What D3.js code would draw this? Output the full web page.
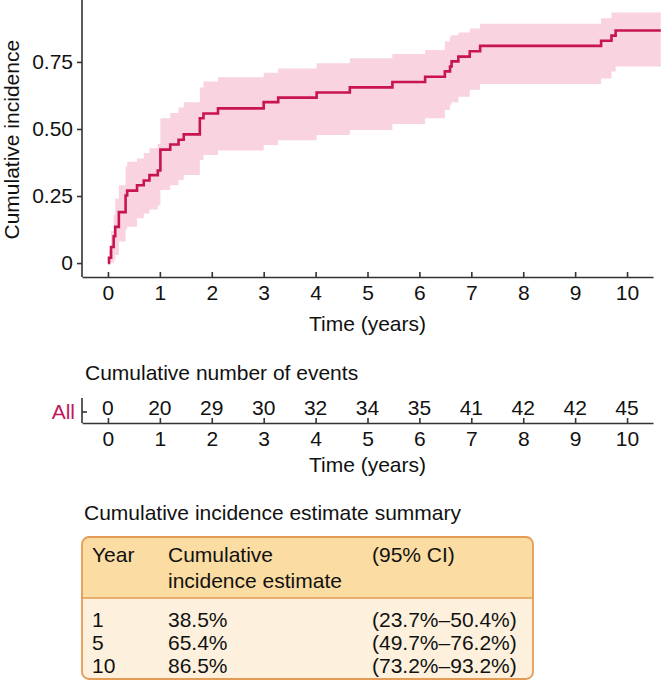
<!DOCTYPE html>
<html>
<head>
<meta charset="utf-8">
<script src="https://cdn.jsdelivr.net/npm/d3@7"></script>
<style>
  body { margin: 0; background: #fff; }
  svg { display: block; font-family: "Liberation Sans", Arial, sans-serif; }
  .axis text { font-size: 21px; fill: #111; font-family: "Liberation Sans", Arial, sans-serif; }
  .axis path, .axis line { stroke: #333; stroke-width: 1.6px; }
</style>
</head>
<body>
<svg id="chart" width="661" height="689"></svg>
<script>
// Step times (years) and cumulative incidence with 95% CI
const times    = [0, 0.02, 0.06, 0.11, 0.14, 0.21, 0.34, 0.37, 0.56, 0.69, 0.80, 0.96, 1.01, 1.20, 1.36, 1.46, 1.77, 1.84, 2.12, 3.00, 3.28, 4.02, 4.66, 5.48, 6.11, 6.49, 6.59, 6.62, 6.75, 6.97, 7.17, 9.50, 9.70, 9.78];
const estimate = [0, 0.02, 0.06, 0.10, 0.135, 0.19, 0.252, 0.27, 0.29, 0.308, 0.328, 0.345, 0.423, 0.442, 0.46, 0.48, 0.54, 0.558, 0.577, 0.60, 0.617, 0.636, 0.655, 0.675, 0.695, 0.715, 0.733, 0.752, 0.77, 0.79, 0.81, 0.829, 0.848, 0.867];
const lower    = [0, 0, 0, 0.01, 0.03, 0.08, 0.125, 0.135, 0.167, 0.185, 0.20, 0.215, 0.272, 0.29, 0.31, 0.328, 0.384, 0.403, 0.42, 0.44, 0.458, 0.478, 0.496, 0.519, 0.54, 0.571, 0.59, 0.60, 0.62, 0.646, 0.668, 0.688, 0.714, 0.733];
const upper    = [0, 0.05, 0.12, 0.18, 0.24, 0.29, 0.36, 0.378, 0.39, 0.41, 0.428, 0.444, 0.54, 0.56, 0.58, 0.60, 0.655, 0.677, 0.693, 0.71, 0.726, 0.745, 0.764, 0.78, 0.795, 0.826, 0.845, 0.85, 0.86, 0.875, 0.892, 0.913, 0.934, 0.934];
const followUpEnd = 10.65;

const yTicks = [0, 0.25, 0.5, 0.75];
const yTickLabels = ["0", "0.25", "0.50", "0.75"];
const xTicks = [0, 1, 2, 3, 4, 5, 6, 7, 8, 9, 10];

// Cumulative number of events at each year
const riskYears = [0, 1, 2, 3, 4, 5, 6, 7, 8, 9, 10];
const riskEvents = [0, 20, 29, 30, 32, 34, 35, 41, 42, 42, 45];

// Summary table
const summaryYears = ["1", "5", "10"];
const summaryEstimates = ["38.5%", "65.4%", "86.5%"];
const summaryCIs = ["(23.7%\u201350.4%)", "(49.7%\u201376.2%)", "(73.2%\u201393.2%)"];

const lineColor = "#c8154f";
const bandColor = "#f9d3e0";

const svg = d3.select("#chart");

// Scales shared by the plot and the events table
const x = d3.scaleLinear().domain([-0.5, 10.5]).range([82, 653]);
const y = d3.scaleLinear().domain([-0.052, 0.981]).range([277, 0]);

const steps = times.map((t, i) => ({ t: t, est: estimate[i], lo: lower[i], hi: upper[i] }));
steps.push({ t: followUpEnd, est: estimate[estimate.length - 1], lo: lower[lower.length - 1], hi: upper[upper.length - 1] });

// CI band
svg.append("path")
    .datum(steps)
    .attr("fill", bandColor)
    .attr("d", d3.area()
        .curve(d3.curveStepAfter)
        .x(d => x(d.t))
        .y0(d => y(d.lo))
        .y1(d => y(d.hi)));

// Estimate line
svg.append("path")
    .datum(steps)
    .attr("fill", "none")
    .attr("stroke", lineColor)
    .attr("stroke-width", 2.6)
    .attr("d", d3.line()
        .curve(d3.curveStepAfter)
        .x(d => x(d.t))
        .y(d => y(d.est)));

// Axes
const yAxis = svg.append("g")
    .attr("class", "axis")
    .attr("transform", `translate(${x(-0.5)},0)`)
    .call(d3.axisLeft(y).tickValues(yTicks).tickFormat((d, i) => yTickLabels[i]).tickSize(5).tickPadding(4));
yAxis.select(".domain").attr("d", `M0,0V${y(-0.052)}`);

svg.append("g")
    .attr("class", "axis")
    .attr("transform", `translate(0,${y(-0.052)})`)
    .call(d3.axisBottom(x).tickValues(xTicks).tickFormat(d3.format("d")).tickSizeInner(-5).tickSizeOuter(0).tickPadding(8));

svg.append("text")
    .attr("transform", `translate(19,${y(0.46)}) rotate(-90)`)
    .attr("text-anchor", "middle")
    .attr("font-size", 21)
    .attr("fill", "#111")
    .text("Cumulative incidence");

svg.append("text")
    .attr("x", x(5))
    .attr("y", 331)
    .attr("text-anchor", "middle")
    .attr("font-size", 21)
    .attr("fill", "#111")
    .text("Time (years)");

// Cumulative number of events
svg.append("text")
    .attr("x", 85)
    .attr("y", 380)
    .attr("font-size", 21)
    .attr("fill", "#111")
    .text("Cumulative number of events");

const riskY = 423;
svg.append("g")
    .attr("class", "axis")
    .attr("transform", `translate(0,${riskY})`)
    .call(d3.axisBottom(x).tickValues(riskYears).tickFormat(d3.format("d")).tickSizeInner(-5).tickSizeOuter(0).tickPadding(8));

svg.append("line")
    .attr("x1", x(-0.5)).attr("x2", x(-0.5))
    .attr("y1", riskY - 25).attr("y2", riskY)
    .attr("stroke", "#333").attr("stroke-width", 1.6);
svg.append("line")
    .attr("x1", x(-0.5)).attr("x2", x(-0.5) + 5)
    .attr("y1", riskY - 11).attr("y2", riskY - 11)
    .attr("stroke", "#333").attr("stroke-width", 1.6);

svg.append("text")
    .attr("x", 75)
    .attr("y", riskY - 4)
    .attr("text-anchor", "end")
    .attr("font-size", 21)
    .attr("fill", "#c2185b")
    .text("All");

svg.selectAll(".risk-num")
    .data(riskYears)
    .enter()
    .append("text")
    .attr("class", "risk-num")
    .attr("x", d => x(d))
    .attr("y", riskY - 8)
    .attr("text-anchor", "middle")
    .attr("font-size", 21)
    .attr("fill", "#111")
    .text((d, i) => riskEvents[i]);

svg.append("text")
    .attr("x", x(5))
    .attr("y", 472)
    .attr("text-anchor", "middle")
    .attr("font-size", 21)
    .attr("fill", "#111")
    .text("Time (years)");

// Summary table
svg.append("text")
    .attr("x", 84)
    .attr("y", 520)
    .attr("font-size", 21)
    .attr("fill", "#111")
    .text("Cumulative incidence estimate summary");

const box = { x: 82, y: 537, w: 451, h: 142, head: 61, r: 7 };
const border = "#e49b55";

svg.append("clipPath").attr("id", "boxclip")
    .append("rect")
    .attr("x", box.x).attr("y", box.y).attr("width", box.w).attr("height", box.h).attr("rx", box.r);

svg.append("rect")
    .attr("x", box.x).attr("y", box.y).attr("width", box.w).attr("height", box.h)
    .attr("fill", "#fdf1dd").attr("clip-path", "url(#boxclip)");
svg.append("rect")
    .attr("x", box.x).attr("y", box.y).attr("width", box.w).attr("height", box.head)
    .attr("fill", "#fbdca2").attr("clip-path", "url(#boxclip)");
svg.append("line")
    .attr("x1", box.x).attr("x2", box.x + box.w)
    .attr("y1", box.y + box.head).attr("y2", box.y + box.head)
    .attr("stroke", border).attr("stroke-width", 1.6);
svg.append("rect")
    .attr("x", box.x).attr("y", box.y).attr("width", box.w).attr("height", box.h).attr("rx", box.r)
    .attr("fill", "none").attr("stroke", border).attr("stroke-width", 1.8);

const colX = [92, 168, 372];
const header = [["Year"], ["Cumulative", "incidence estimate"], ["(95% CI)"]];
header.forEach((lines, c) => {
    lines.forEach((s, k) => {
        svg.append("text")
            .attr("x", colX[c])
            .attr("y", 562 + k * 26)
            .attr("font-size", 21)
            .attr("fill", "#111")
            .text(s);
    });
});

summaryYears.forEach((yr, i) => {
    const rowY = 627 + i * 23;
    [yr, summaryEstimates[i], summaryCIs[i]].forEach((s, c) => {
        svg.append("text")
            .attr("x", colX[c])
            .attr("y", rowY)
            .attr("font-size", 21)
            .attr("fill", "#111")
            .text(s);
    });
});
</script>
</body>
</html>
